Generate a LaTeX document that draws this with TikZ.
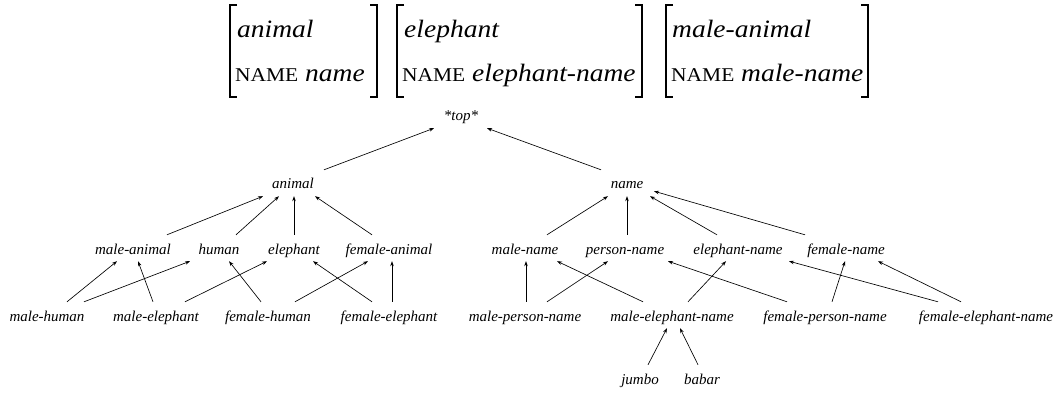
\documentclass[tikz,border=0pt]{standalone}
\usepackage{fontspec}
\setmainfont{Liberation Serif}
\newfontfamily\avmfont[FakeStretch=1.1]{Liberation Serif}
\usetikzlibrary{arrows.meta}
\begin{document}
\begin{tikzpicture}[x=1pt,y=-1pt,
  lab/.style={anchor=base, font=\fontsize{15}{18}\selectfont\itshape, text height=15pt, text depth=3pt, inner xsep=0pt, inner ysep=4pt},
  arr/.style={-{Stealth[length=5pt,width=3.6pt]}, line width=0.65pt},
  avm/.style={anchor=base west, inner sep=0pt, font=\avmfont\fontsize{25}{30}\selectfont\itshape},
  brk/.style={line width=1.1pt}]
\useasboundingbox (0,0) rectangle (1055,393);
% feature structures
\node[avm] (a1) at (237,38) {animal};
\node[avm] (b1) at (235,82) {{\upshape\fontsize{19.5}{24}\selectfont NAME} name};
\node[avm] (a2) at (404,38) {elephant};
\node[avm] (b2) at (402,82) {{\upshape\fontsize{19.5}{24}\selectfont NAME} elephant-name};
\node[avm] (a3) at (672,38) {male-animal};
\node[avm] (b3) at (671,82) {{\upshape\fontsize{19.5}{24}\selectfont NAME} male-name};
\draw[brk] (237,5) -- (230,5) -- (230,97) -- (237,97);
\draw[brk] (370,5) -- (377,5) -- (377,97) -- (370,97);
\draw[brk] (404,5) -- (397,5) -- (397,97) -- (404,97);
\draw[brk] (635,5) -- (642,5) -- (642,97) -- (635,97);
\draw[brk] (673,5) -- (666,5) -- (666,97) -- (673,97);
\draw[brk] (861,5) -- (868,5) -- (868,97) -- (861,97);
% hierarchy nodes
\node[lab] (top) at (461,121) {*top*};
\node[lab] (animal) at (293,189) {animal};
\node[lab] (name) at (627,189) {name};
\node[lab] (ma) at (133,254) {male-animal};
\node[lab] (hu) at (219,254) {human};
\node[lab] (el) at (294,254) {elephant};
\node[lab] (fa) at (389,254) {female-animal};
\node[lab] (mn) at (525,254) {male-name};
\node[lab] (pn) at (625,254) {person-name};
\node[lab] (en) at (738,254) {elephant-name};
\node[lab] (fn) at (846,254) {female-name};
\node[lab] (mh) at (47,321) {male-human};
\node[lab] (me) at (156,321) {male-elephant};
\node[lab] (fh) at (268,321) {female-human};
\node[lab] (fe) at (389,321) {female-elephant};
\node[lab] (mpn) at (525,321) {male-person-name};
\node[lab] (men) at (672,321) {male-elephant-name};
\node[lab] (fpn) at (825,321) {female-person-name};
\node[lab] (fen) at (986,321) {female-elephant-name};
\node[lab] (jumbo) at (640,384) {jumbo};
\node[lab] (babar) at (702,384) {babar};
% connectors
\draw[arr] ([xshift=31pt]animal.north) -- ([xshift=-27pt]top.south);
\draw[arr] ([xshift=-26pt]name.north) -- ([xshift=26pt]top.south);
\draw[arr] ([xshift=34pt]ma.north) -- ([xshift=-30pt]animal.south);
\draw[arr] ([xshift=17pt]hu.north) -- ([xshift=-14pt]animal.south);
\draw[arr] ([xshift=0pt]el.north) -- ([xshift=1pt]animal.south);
\draw[arr] ([xshift=-17pt]fa.north) -- ([xshift=22pt]animal.south);
\draw[arr] ([xshift=20pt]mh.north) -- ([xshift=-16pt]ma.south);
\draw[arr] ([xshift=37pt]mh.north) -- ([xshift=-29pt]hu.south);
\draw[arr] ([xshift=-3pt]me.north) -- ([xshift=5pt]ma.south);
\draw[arr] ([xshift=29pt]me.north) -- ([xshift=-27pt]el.south);
\draw[arr] ([xshift=-7pt]fh.north) -- ([xshift=10pt]hu.south);
\draw[arr] ([xshift=27pt]fh.north) -- ([xshift=-21pt]fa.south);
\draw[arr] ([xshift=-17pt]fe.north) -- ([xshift=19pt]el.south);
\draw[arr] ([xshift=3pt]fe.north) -- ([xshift=3pt]fa.south);
\draw[arr] ([xshift=22pt]mn.north) -- ([xshift=-19pt]name.south);
\draw[arr] ([xshift=2pt]pn.north) -- ([xshift=0pt]name.south);
\draw[arr] ([xshift=-21pt]en.north) -- ([xshift=23pt]name.south);
\draw[arr] ([xshift=-41pt]fn.north) -- ([xshift=27pt,yshift=5pt]name.south);
\draw[arr] ([xshift=1pt]mpn.north) -- ([xshift=1pt]mn.south);
\draw[arr] ([xshift=22pt]mpn.north) -- ([xshift=-17pt]pn.south);
\draw[arr] ([xshift=-29pt]men.north) -- ([xshift=32pt]mn.south);
\draw[arr] ([xshift=16pt]men.north) -- ([xshift=-12pt]en.south);
\draw[arr] ([xshift=-38pt]fpn.north) -- ([xshift=43pt]pn.south);
\draw[arr] ([xshift=7pt]fpn.north) -- ([xshift=-1pt]fn.south);
\draw[arr] ([xshift=-48pt]fen.north) -- ([xshift=51pt]en.south);
\draw[arr] ([xshift=-25pt]fen.north) -- ([xshift=32pt]fn.south);
\draw[arr] ([xshift=8pt]jumbo.north) -- ([xshift=-5pt]men.south);
\draw[arr] ([xshift=-4pt]babar.north) -- ([xshift=8pt]men.south);
\end{tikzpicture}
\end{document}
